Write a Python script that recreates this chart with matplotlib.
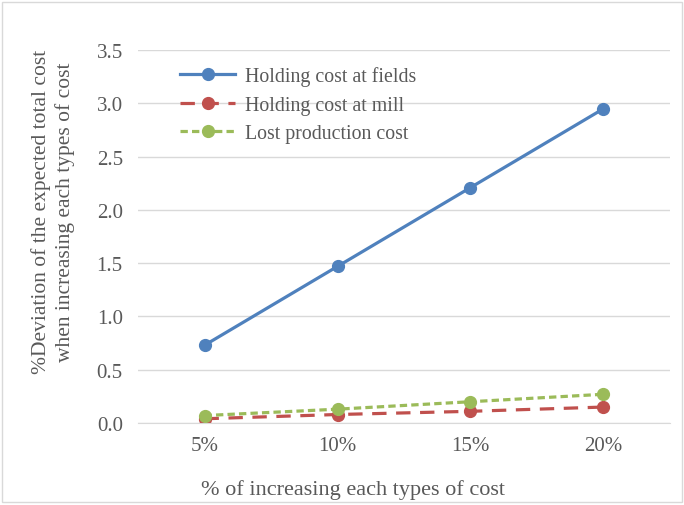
import matplotlib.pyplot as plt
import numpy as np
from matplotlib.patches import Rectangle

categories = ['5%', '10%', '15%', '20%']
fields = [0.73, 1.47, 2.21, 2.95]
mill = [0.04, 0.08, 0.11, 0.15]
lost = [0.07, 0.13, 0.20, 0.27]
yticks = [0.0, 0.5, 1.0, 1.5, 2.0, 2.5, 3.0, 3.5]

plt.rcParams['font.family'] = ['Liberation Serif', 'DejaVu Serif']
txt = '#595959'

fig = plt.figure(figsize=(6.84, 5.06), dpi=100)
ax = fig.add_axes([0.2018, 0.162, 0.7777, 0.737])

x = np.arange(len(categories))
ax.plot(x, fields, '-o', color='#4F81BD', lw=2.3, ms=8.5, label='Holding cost at fields')
ax.plot(x, mill, '--o', color='#C0504D', lw=2.3, ms=8.5, dashes=(4.5, 3),
        label='Holding cost at mill')
ax.plot(x, lost, '--o', color='#9BBB59', lw=2.3, ms=8.5, dashes=(2.3, 1.3),
        label='Lost production cost')

ax.set_xlim(-0.5, 3.5)
ax.set_ylim(0, 3.5)
ax.set_xticks(x)
ax.set_xticklabels(categories)
ax.set_yticks(yticks)
ax.set_yticklabels(['%.1f' % v for v in yticks])
ax.tick_params(length=0, labelsize=15, colors=txt)
ax.tick_params(axis='y', pad=11)
ax.tick_params(axis='x', pad=9)
ax.grid(axis='y', color='#d9d9d9', lw=1)
ax.set_axisbelow(True)
for s in ['top', 'right', 'left']:
    ax.spines[s].set_visible(False)
ax.spines['bottom'].set_color('#d9d9d9')

ax.set_xlabel('% of increasing each types of cost', fontsize=16, color=txt)
ax.xaxis.set_label_coords(0.404, -0.177)
ax.xaxis.label.set_va('center')
ax.set_ylabel('%Deviation of the expected total cost\nwhen increasing each types of cost',
              fontsize=15.5, color=txt, linespacing=1.3)
ax.yaxis.set_label_coords(-0.16, 0.568)
ax.yaxis.label.set_va('center')

leg = ax.legend(loc='upper left', bbox_to_anchor=(0.045, 1.005), frameon=False,
                fontsize=14.3, handlelength=2.8, handletextpad=0.5, labelspacing=0.48)
for t in leg.get_texts():
    t.set_color(txt)

fig.patches.append(Rectangle((0.003, 0.005), 0.994, 0.99, transform=fig.transFigure,
                             fill=False, edgecolor='#d9d9d9', lw=1))

fig.savefig('out.png', dpi=100)
